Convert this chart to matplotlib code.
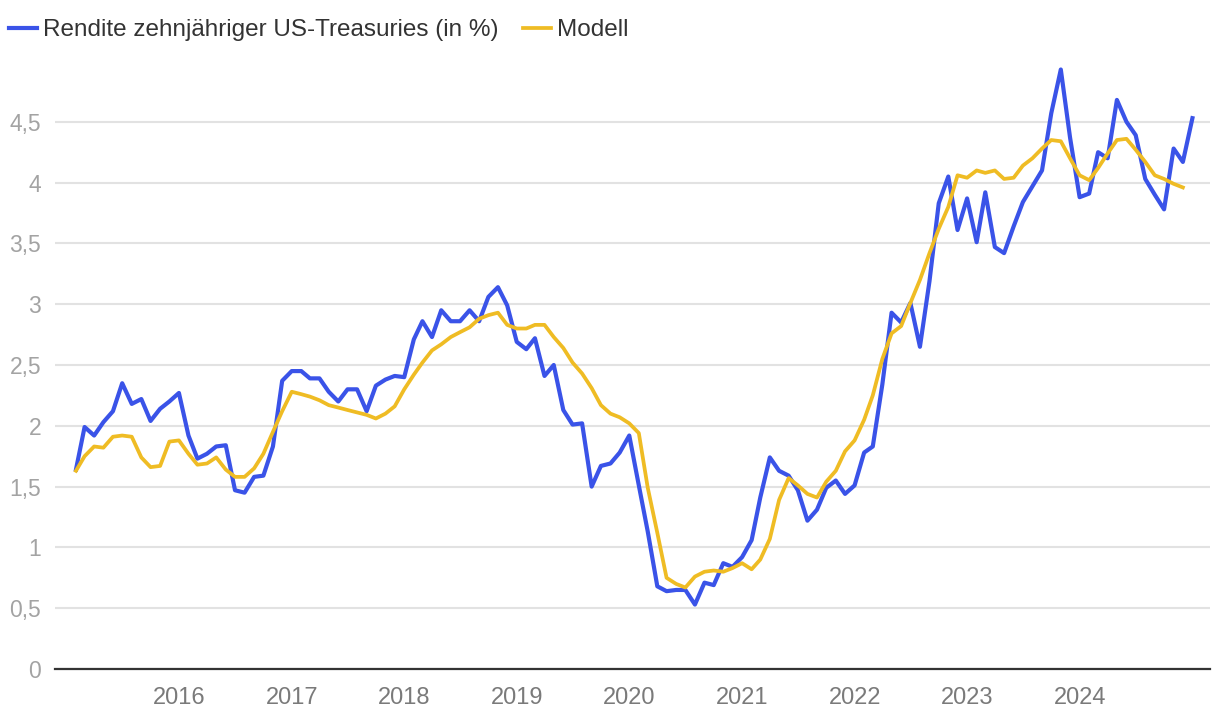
import pandas as pd
import matplotlib
matplotlib.use('Agg')
import matplotlib.pyplot as plt

# Monatsende-Werte, Jan 2015 bis Dez 2024
rendite = [
    1.64, 1.99, 1.92, 2.03, 2.12, 2.35, 2.18, 2.22, 2.04, 2.14, 2.20, 2.27,
    1.92, 1.73, 1.77, 1.83, 1.84, 1.47, 1.45, 1.58, 1.59, 1.83, 2.37, 2.45,
    2.45, 2.39, 2.39, 2.28, 2.20, 2.30, 2.30, 2.12, 2.33, 2.38, 2.41, 2.40,
    2.71, 2.86, 2.73, 2.95, 2.86, 2.86, 2.95, 2.86, 3.06, 3.14, 2.99, 2.69,
    2.63, 2.72, 2.41, 2.50, 2.13, 2.01, 2.02, 1.50, 1.67, 1.69, 1.78, 1.92,
    1.51, 1.13, 0.68, 0.64, 0.65, 0.65, 0.53, 0.71, 0.69, 0.87, 0.84, 0.92,
    1.06, 1.41, 1.74, 1.63, 1.59, 1.47, 1.22, 1.31, 1.49, 1.55, 1.44, 1.51,
    1.78, 1.83, 2.34, 2.93, 2.85, 3.01, 2.65, 3.19, 3.83, 4.05, 3.61, 3.87,
    3.51, 3.92, 3.47, 3.42, 3.64, 3.84, 3.97, 4.10, 4.57, 4.93, 4.37, 3.88,
    3.91, 4.25, 4.20, 4.68, 4.50, 4.39, 4.03, 3.90, 3.78, 4.28, 4.17, 4.53,
]
modell = [
    1.63, 1.75, 1.83, 1.82, 1.91, 1.92, 1.91, 1.74, 1.66, 1.67, 1.87, 1.88,
    1.77, 1.68, 1.69, 1.74, 1.64, 1.58, 1.58, 1.65, 1.77, 1.95, 2.12, 2.28,
    2.26, 2.24, 2.21, 2.17, 2.15, 2.13, 2.11, 2.09, 2.06, 2.10, 2.16, 2.30,
    2.42, 2.52, 2.62, 2.67, 2.73, 2.77, 2.81, 2.88, 2.91, 2.93, 2.83, 2.80,
    2.80, 2.83, 2.83, 2.73, 2.64, 2.52, 2.43, 2.31, 2.17, 2.10, 2.07, 2.02,
    1.94, 1.49, 1.12, 0.75, 0.70, 0.67, 0.76, 0.80, 0.81, 0.80, 0.83, 0.87,
    0.82, 0.90, 1.07, 1.39, 1.57, 1.51, 1.44, 1.41, 1.54, 1.63, 1.79, 1.88,
    2.05, 2.25, 2.55, 2.76, 2.82, 3.01, 3.20, 3.42, 3.62, 3.80, 4.06, 4.04,
    4.10, 4.08, 4.10, 4.03, 4.04, 4.14, 4.20, 4.28, 4.35, 4.34, 4.20, 4.06,
    4.02, 4.12, 4.24, 4.35, 4.36, 4.27, 4.17, 4.06, 4.03, 3.99, 3.96,
]
monate = pd.date_range('2015-01-31', periods=len(rendite), freq='ME')
jahre = list(range(2016, 2025))
y_werte = [0, 0.5, 1, 1.5, 2, 2.5, 3, 3.5, 4, 4.5]
y_texte = ['0', '0,5', '1', '1,5', '2', '2,5', '3', '3,5', '4', '4,5']

BLAU = '#3a53e8'
GELB = '#efbc24'

plt.rcParams['font.family'] = ['Liberation Sans', 'DejaVu Sans']

fig = plt.figure(figsize=(12.2, 7.16), dpi=100)
ax = fig.add_axes([55 / 1220, 1 - 669 / 716, 1155 / 1220, 608 / 716])

ax.plot(monate, rendite, color=BLAU, lw=3, label='Rendite zehnjähriger US-Treasuries (in %)')
ax.plot(monate[:len(modell)], modell, color=GELB, lw=2.7, label='Modell')

ax.set_ylim(0, 5.0)
ax.set_xlim(pd.Timestamp('2014-11-24'), pd.Timestamp('2025-02-26'))
ax.set_yticks(y_werte)
ax.set_yticklabels(y_texte)
ax.set_xticks([pd.Timestamp(f'{j}-01-01') for j in jahre])
ax.set_xticklabels([str(j) for j in jahre])

ax.grid(axis='y', color='#e2e2e2', lw=1.5)
ax.set_axisbelow(True)
for s in ['top', 'right', 'left']:
    ax.spines[s].set_visible(False)
ax.spines['bottom'].set_color('#333333')
ax.spines['bottom'].set_linewidth(1.6)
ax.spines['bottom'].set_zorder(3)

ax.tick_params(axis='y', length=0, pad=10, labelsize=16.5, labelcolor='#a3a3a3')
ax.tick_params(axis='x', length=0, pad=13, labelsize=17, labelcolor='#7a7a7a')

fig.legend(loc='upper left', bbox_to_anchor=(9 / 1220, 1 - 19 / 716), ncol=2,
           frameon=False, fontsize=17.5, handlelength=1.15, handletextpad=0.25,
           columnspacing=1.0, borderaxespad=0, borderpad=0, labelcolor='#333333')

fig.savefig('out.png', dpi=100)
